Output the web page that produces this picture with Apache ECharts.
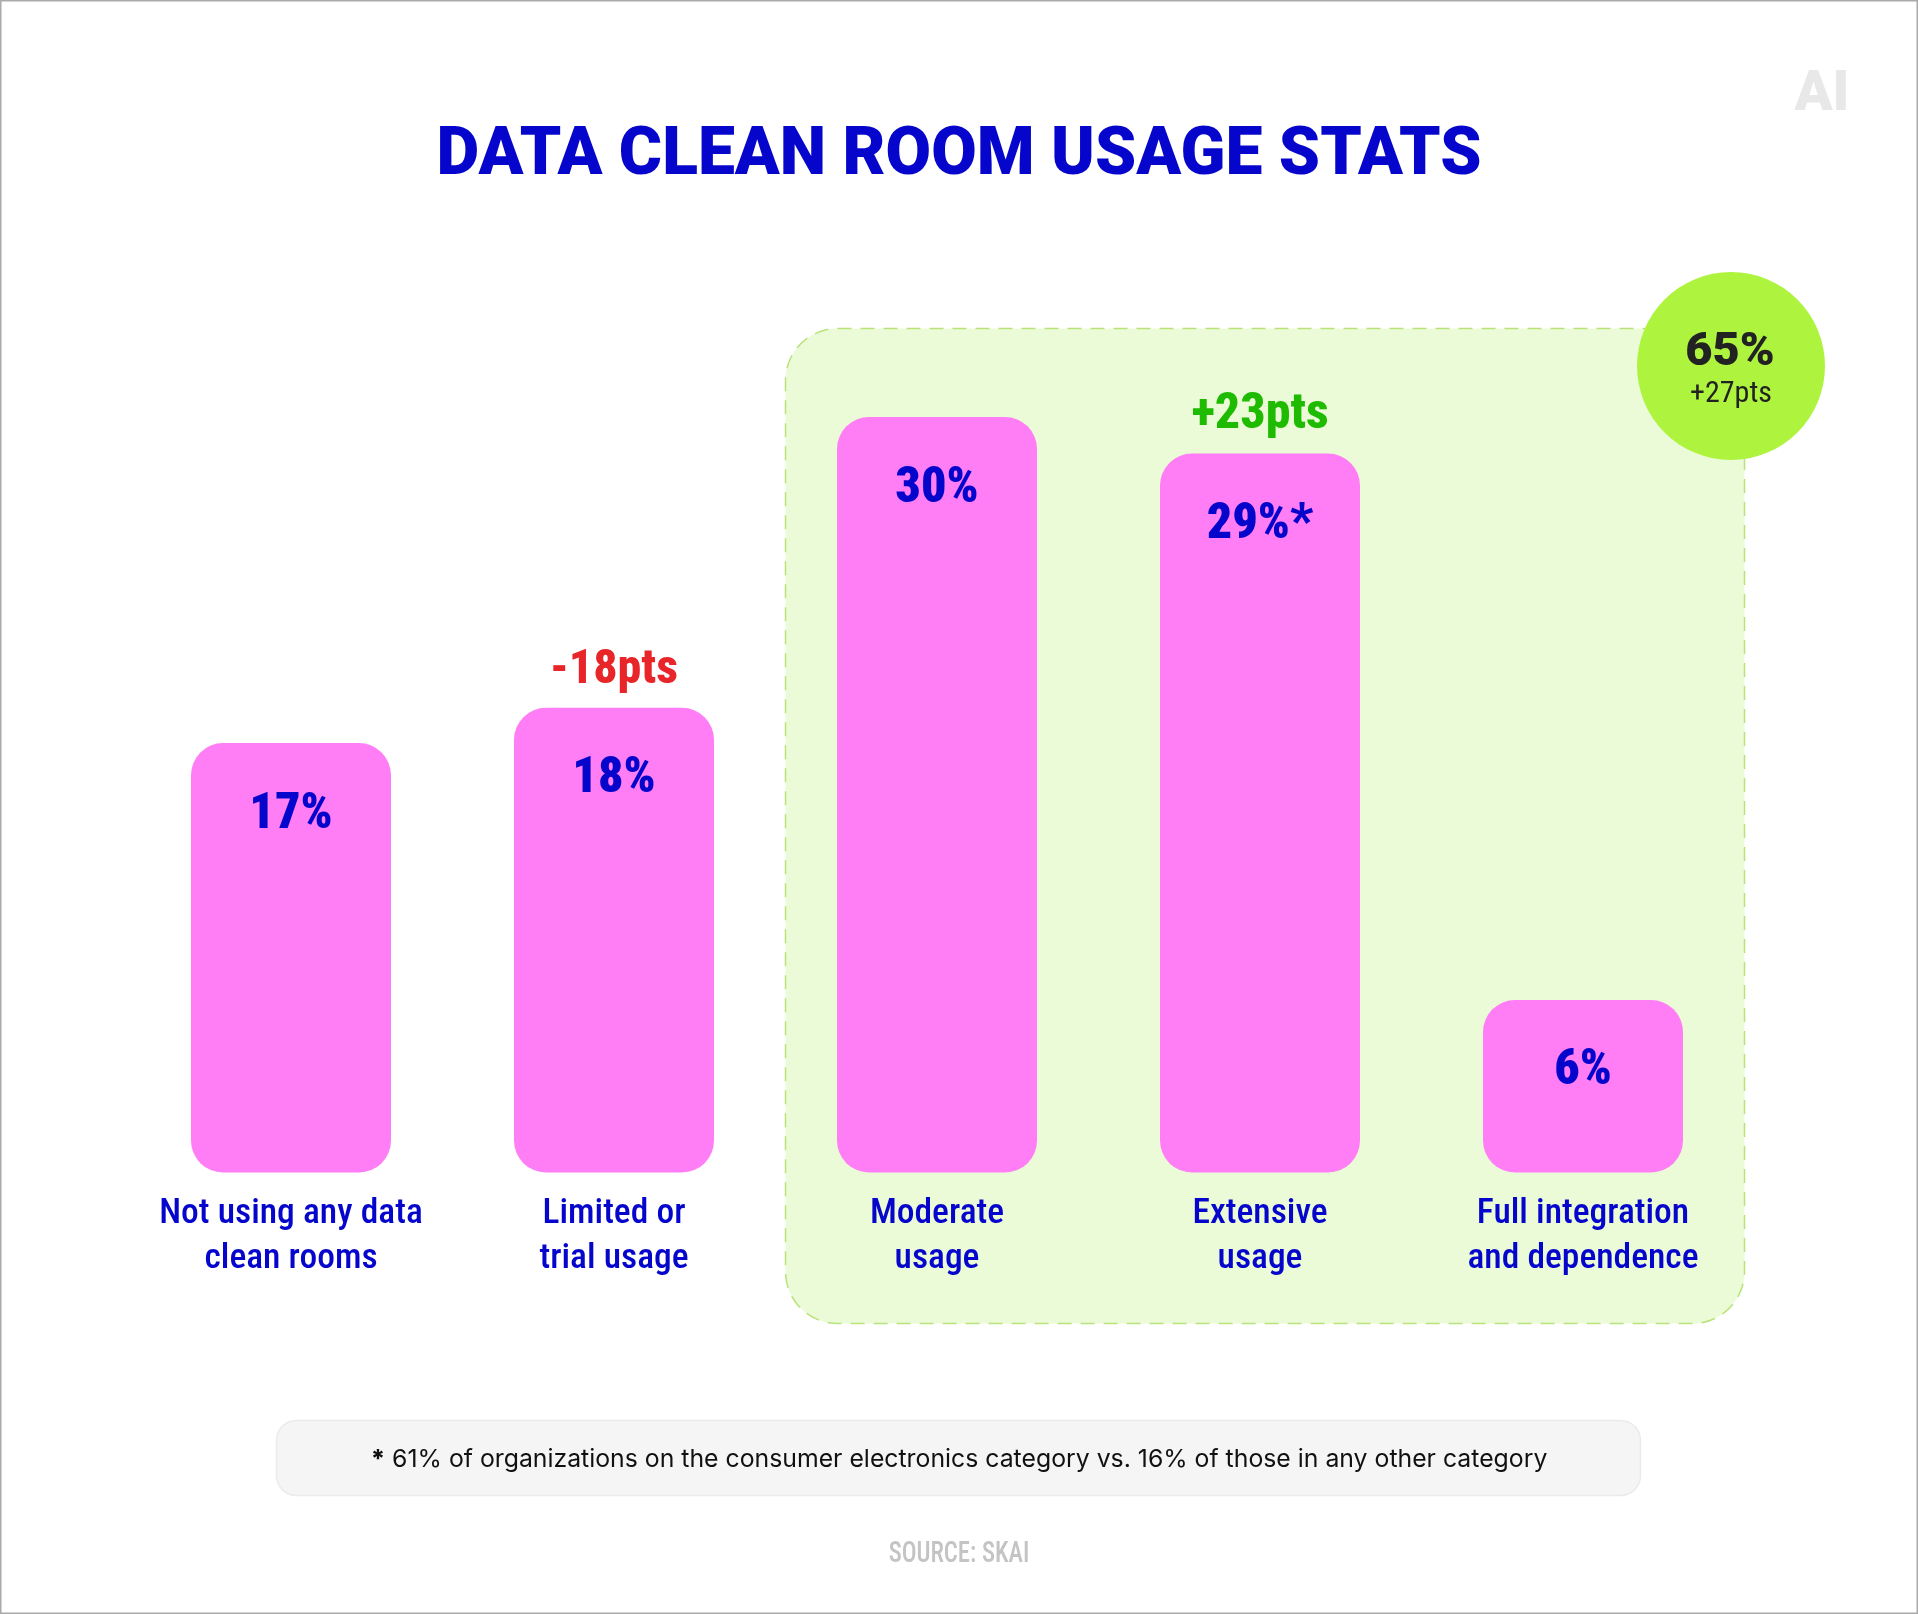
<!DOCTYPE html>
<html>
<head>
<meta charset="utf-8">
<title>Data clean room usage stats</title>
<script src="https://cdn.jsdelivr.net/npm/echarts@6/dist/echarts.min.js"></script>
<style>
	html, body { margin: 0; padding: 0; background: #fff; }
	#chart { width: 1918px; height: 1614px; }
</style>
</head>
<body>
<div id="chart"></div>
<script>
var categories = ['Not using any data\nclean rooms', 'Limited or\ntrial usage', 'Moderate\nusage', 'Extensive\nusage', 'Full integration\nand dependence'];
// bar heights as drawn in the picture, they do not follow the printed labels exactly
var barHeights = [17.05, 18.45, 30, 28.55, 6.85];
var valueLabels = ['17%', '18%', '30%', '29%*', '6%'];
var changeLabels = ['', '-18pts', '', '+23pts', ''];
var changeStyles = ['', 'down', '', 'up', ''];

var narrowFont = '"Roboto Condensed", Roboto, sans-serif';
var blue = '#0505cc';

var chart = echarts.init(document.getElementById('chart'));

var option = {
	backgroundColor: '#fff',
	animation: false,
	title: {
		text: 'DATA CLEAN ROOM USAGE STATS',
		left: 'center',
		top: 119,
		textStyle: { color: blue, fontFamily: 'Roboto', fontWeight: 900, fontSize: 66 }
	},
	grid: { left: 129.5, width: 1615, top: 417, height: 755.5 },
	xAxis: {
		type: 'category',
		data: categories,
		axisLine: { show: false },
		axisTick: { show: false },
		axisLabel: {
			color: blue,
			fontFamily: narrowFont,
			fontWeight: 500,
			fontSize: 35.5,
			lineHeight: 45,
			margin: 19,
			interval: 0
		}
	},
	yAxis: { type: 'value', min: 0, max: 30, show: false },
	series: [
		{
			type: 'bar',
			data: barHeights,
			barWidth: 200,
			itemStyle: { color: '#ff7ef5', borderRadius: 32 },
			label: {
				show: true,
				position: 'insideTop',
				distance: 47,
				color: blue,
				fontFamily: narrowFont,
				fontWeight: 900,
				fontSize: 50,
				formatter: function (p) { return valueLabels[p.dataIndex]; }
			}
		},
		{
			// 只用来放柱子上方的变化值
			type: 'bar',
			data: barHeights,
			barWidth: 200,
			barGap: '-100%',
			silent: true,
			itemStyle: { color: 'transparent' },
			label: {
				show: true,
				position: 'top',
				distance: 13,
				formatter: function (p) {
					if (!changeLabels[p.dataIndex]) return '';
					return '{' + changeStyles[p.dataIndex] + '|' + changeLabels[p.dataIndex] + '}';
				},
				rich: {
					up: { color: '#1fbb00', fontFamily: narrowFont, fontWeight: 800, fontSize: 50 },
					down: { color: '#e8262a', fontFamily: narrowFont, fontWeight: 800, fontSize: 48 }
				}
			}
		}
	],
	graphic: [
		// outer frame
		{ type: 'rect', z: -2, silent: true, shape: { x: 0.5, y: 0.5, width: 1917, height: 1613 },
			style: { fill: '#fff', stroke: '#aaaaaa', lineWidth: 2 } },
		// green panel
		{ type: 'rect', z: -1, silent: true, shape: { x: 785.5, y: 328.5, width: 959, height: 995, r: 52 },
			style: { fill: '#ebfbd8', stroke: '#b9e27a', lineWidth: 1.5, lineDash: [14, 9] } },
		// badge
		{ type: 'circle', z: 10, silent: true, shape: { cx: 1731, cy: 366, r: 94 }, style: { fill: '#aef43f' } },
		{ type: 'text', z: 11, silent: true, x: 1730, y: 353, style: { text: '65%', fill: '#222', align: 'center', verticalAlign: 'middle',
			font: '900 47px Roboto' } },
		{ type: 'text', z: 11, silent: true, x: 1731, y: 394, style: { text: '+27pts', fill: '#222', align: 'center', verticalAlign: 'middle',
			font: '30px ' + narrowFont } },
		// logo
		{ type: 'text', z: 1, silent: true, x: 1822, y: 96, style: { text: 'AI', fill: '#e8e8e8', align: 'center', verticalAlign: 'middle',
			font: '900 56px Roboto' } },
		// footnote
		{ type: 'rect', z: 1, silent: true, shape: { x: 276.5, y: 1420.5, width: 1364, height: 75, r: 20 },
			style: { fill: '#f5f5f5', stroke: '#ebebeb', lineWidth: 1.5 } },
		{ type: 'text', z: 2, silent: true, x: 959, y: 1460, style: {
			text: '{b|*}{n| 61% of organizations on the consumer electronics category vs. 16% of those in any other category}',
			align: 'center', verticalAlign: 'middle',
			rich: {
				b: { fill: '#111', fontFamily: 'Inter', fontWeight: 800, fontSize: 24.8 },
				n: { fill: '#111', fontFamily: 'Inter', fontSize: 24.8 }
			} } },
		// source
		{ type: 'text', z: 2, silent: true, x: 959, y: 1554, scaleX: 0.82, style: { text: 'SOURCE: SKAI', fill: '#c4c4c4', align: 'center', verticalAlign: 'middle',
			font: '500 30px ' + narrowFont } }
	]
};

chart.setOption(option);
</script>
</body>
</html>
